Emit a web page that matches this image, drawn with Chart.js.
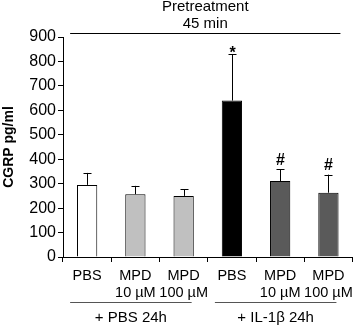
<!DOCTYPE html>
<html>
<head>
<meta charset="utf-8">
<script src="https://cdn.jsdelivr.net/npm/chart.js@4"></script>
<style>
  html, body { margin: 0; padding: 0; background: #fff; }
  #wrap { width: 358px; height: 326px; }
</style>
</head>
<body>
<div id="wrap"><canvas id="c" width="358" height="326"></canvas></div>
<script>
const labels = [['PBS'], ['MPD', '10 µM'], ['MPD', '100 µM'], ['PBS'], ['MPD', '10 µM'], ['MPD', '100 µM']];
const values = [295, 257, 250, 640, 311, 263];
const errors = [49, 34, 28, 190, 47, 74];
const marks = ['', '', '', '*', '#', '#'];
const colors = ['#ffffff', '#c0c0c0', '#c0c0c0', '#000000', '#5a5a5a', '#5a5a5a'];
const groups = [{ text: '+ PBS 24h', from: 0, to: 2 }, { text: '+ IL-1β 24h', from: 3, to: 5 }];
const yTicks = [0, 100, 200, 300, 400, 500, 600, 700, 800, 900];
const FONT = 'Liberation Sans, Arial, sans-serif';

const extras = {
  id: 'extras',
  afterDatasetsDraw(chart) {
    const ctx = chart.ctx, x = chart.scales.x, y = chart.scales.y;
    ctx.save();
    ctx.strokeStyle = '#000'; ctx.lineWidth = 1; ctx.fillStyle = '#000';
    // error bars (upper only) and significance marks
    values.forEach((v, i) => {
      const cx = Math.round(x.getPixelForValue(i)) + 0.5;
      const y0 = y.getPixelForValue(v), y1 = y.getPixelForValue(v + errors[i]);
      ctx.beginPath();
      ctx.moveTo(cx, y0); ctx.lineTo(cx, y1);
      ctx.moveTo(cx - 4, Math.round(y1) + 0.5); ctx.lineTo(cx + 4, Math.round(y1) + 0.5);
      ctx.stroke();
      if (marks[i]) {
        ctx.font = 'bold 16px ' + FONT;
        ctx.textAlign = 'center'; ctx.textBaseline = 'bottom';
        ctx.fillText(marks[i], cx, y1 + (marks[i] === '*' ? 7 : -1));
      }
    });
    // top header
    const left = x.getPixelForValue(0) - 17, right = x.getPixelForValue(5) + 12;
    ctx.beginPath();
    ctx.moveTo(left, 33.5); ctx.lineTo(right, 33.5); ctx.stroke();
    ctx.font = '15px ' + FONT; ctx.textAlign = 'center'; ctx.textBaseline = 'middle';
    const mid = (left + right) / 2;
    ctx.fillText('Pretreatment', mid, 7);
    ctx.fillText('45 min', mid, 24);
    // group brackets
    groups.forEach(g => {
      const a = x.getPixelForValue(g.from) - 17, b = x.getPixelForValue(g.to) + 8;
      ctx.strokeStyle = '#555';
      ctx.beginPath(); ctx.moveTo(a, 302.5); ctx.lineTo(b, 302.5); ctx.stroke();
      ctx.fillText(g.text, (a + b) / 2, 318);
    });
    // y axis title
    ctx.translate(9, (y.top + y.bottom) / 2);
    ctx.rotate(-Math.PI / 2);
    ctx.font = 'bold 14px ' + FONT;
    ctx.fillText('CGRP pg/ml', 0, 0);
    ctx.restore();
  }
};

new Chart(document.getElementById('c'), {
  type: 'bar',
  data: {
    labels: labels,
    datasets: [{
      data: values,
      backgroundColor: colors,
      borderColor: '#000',
      borderWidth: 1,
      categoryPercentage: 1,
      barPercentage: 0.42
    }]
  },
  options: {
    responsive: false,
    animation: false,
    layout: { padding: { left: 0, right: 3, top: 37, bottom: 0 } },
    plugins: { legend: { display: false }, tooltip: { enabled: false } },
    scales: {
      x: {
        grid: { display: true, offset: true, drawOnChartArea: false, tickLength: 5, color: '#000' },
        border: { color: '#000' },
        ticks: { color: '#000', font: { family: FONT, size: 14.5 }, padding: 5, maxRotation: 0, autoSkip: false },
        afterFit: s => { s.height = 69; }
      },
      y: {
        min: 0, max: 900,
        afterBuildTicks: s => { s.ticks = yTicks.map(v => ({ value: v })); },
        grid: { display: true, drawOnChartArea: false, tickLength: 5, color: '#000' },
        border: { color: '#000' },
        ticks: { color: '#000', font: { family: FONT, size: 16 }, padding: 2 },
        afterFit: s => { s.width = 63; }
      }
    }
  },
  plugins: [extras]
});
</script>
</body>
</html>
